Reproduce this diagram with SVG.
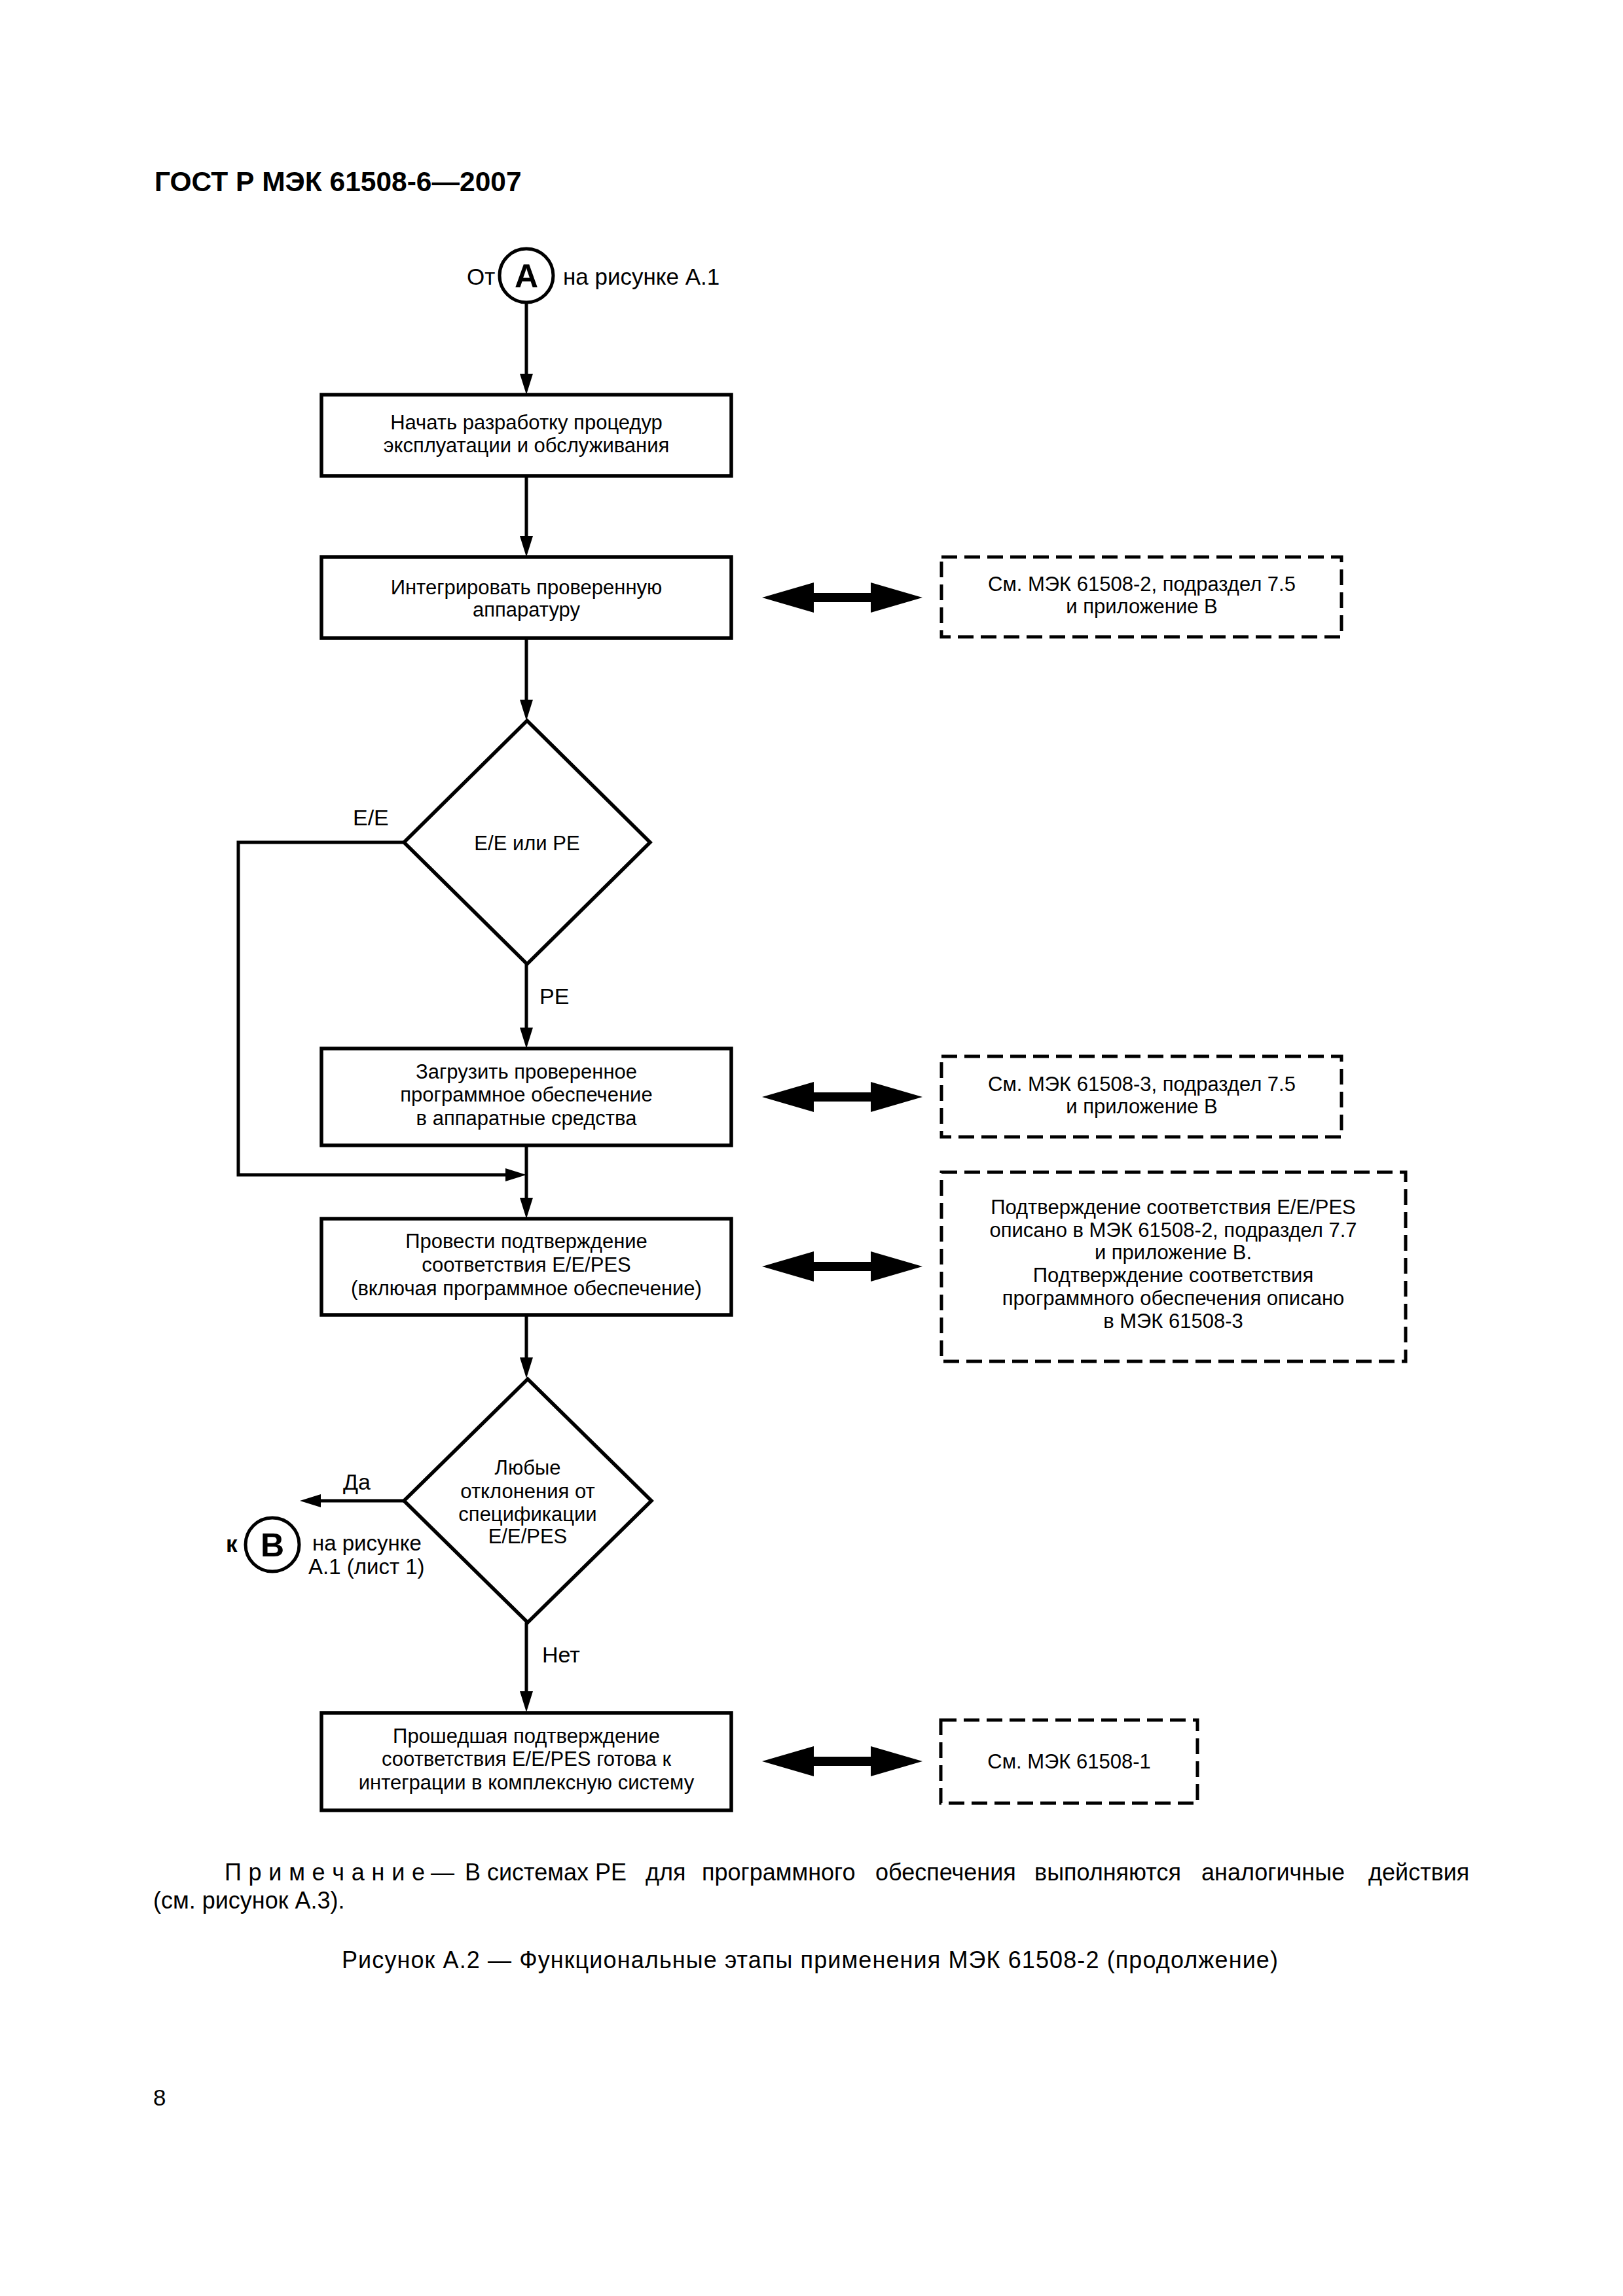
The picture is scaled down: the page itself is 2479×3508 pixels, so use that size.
<svg xmlns="http://www.w3.org/2000/svg" xmlns:xlink="http://www.w3.org/1999/xlink" width="2479" height="3508" viewBox="0 0 2479 3508">
<style>
  text { font-family: "Liberation Sans", Arial, "Noto Sans", sans-serif; fill: #000; }
  .box { fill: #fff; stroke: #000; stroke-width: 5.5; }
  .dbox { fill: #fff; stroke: #000; stroke-width: 5; stroke-dasharray: 24 11; }
  .conn { fill: none; stroke: #000; stroke-width: 5; }
  .t { font-size: 31px; text-anchor: middle; }
  .lbl { font-size: 34px; }
  .ref { font-size: 35px; }
  .cl { font-size: 50px; font-weight: bold; text-anchor: middle; }
  .note { font-size: 36px; }
</style>
<defs>
  <marker id="ah" viewBox="0 0 32 20" refX="16" refY="10" markerWidth="32" markerHeight="20" markerUnits="userSpaceOnUse" orient="auto">
    <path d="M0,0 L32,10 L0,20 Z" fill="#000"/>
  </marker>
  <path id="dbl" d="M0,0 L79,-23 L79,-7 L166,-7 L166,-23 L245,0 L166,23 L166,7 L79,7 L79,23 Z" fill="#000"/>
</defs>
<rect x="0" y="0" width="2479" height="3508" fill="#fff"/>

<text x="236" y="292" style="font-size:42.5px;font-weight:bold">ГОСТ Р МЭК 61508-6—2007</text>

<g id="connectors">
  <path class="conn" d="M804,462 L804,587" marker-end="url(#ah)"/>
  <path class="conn" d="M804,727 L804,835" marker-end="url(#ah)"/>
  <path class="conn" d="M804,975 L804,1085" marker-end="url(#ah)"/>
  <path class="conn" d="M804,1473 L804,1586" marker-end="url(#ah)"/>
  <path class="conn" d="M617,1287 L364,1287 L364,1795 L788,1795" marker-end="url(#ah)"/>
  <path class="conn" d="M804,1750 L804,1846" marker-end="url(#ah)"/>
  <path class="conn" d="M804,2009 L804,2090" marker-end="url(#ah)"/>
  <path class="conn" d="M617,2293 L474,2293" marker-end="url(#ah)"/>
  <path class="conn" d="M804,2479 L804,2600" marker-end="url(#ah)"/>
  <use xlink:href="#dbl" href="#dbl" x="1164" y="913"/>
  <use xlink:href="#dbl" href="#dbl" x="1164" y="1676"/>
  <use xlink:href="#dbl" href="#dbl" x="1164" y="1935"/>
  <use xlink:href="#dbl" href="#dbl" x="1164" y="2691"/>
  <text class="lbl" x="539" y="1261">E/E</text>
  <text class="lbl" x="824" y="1534">PE</text>
  <text class="lbl" x="524" y="2276">Да</text>
  <text class="lbl" x="828" y="2540">Нет</text>
</g>

<g id="connA">
  <text class="ref" x="713" y="435">От</text>
  <circle cx="804" cy="421" r="41" fill="#fff" stroke="#000" stroke-width="5"/>
  <text class="cl" x="804" y="439">А</text>
  <text class="ref" x="860" y="435">на рисунке А.1</text>
</g>

<g id="box1">
  <rect class="box" x="491" y="603" width="626" height="124"/>
  <text class="t" x="804" y="656">Начать разработку процедур</text>
  <text class="t" x="804" y="691">эксплуатации и обслуживания</text>
</g>

<g id="box2">
  <rect class="box" x="491" y="851" width="626" height="124"/>
  <text class="t" x="804" y="908">Интегрировать проверенную</text>
  <text class="t" x="804" y="942">аппаратуру</text>
</g>

<g id="ref1">
  <rect class="dbox" x="1438" y="851" width="611" height="122"/>
  <text class="t" x="1744" y="903">См. МЭК 61508-2, подраздел 7.5</text>
  <text class="t" x="1744" y="937">и приложение В</text>
</g>

<g id="dec1">
  <polygon class="box" points="805,1101 993,1287 805,1473 617,1287"/>
  <text class="t" x="805" y="1299">E/E или PE</text>
</g>

<g id="box3">
  <rect class="box" x="491" y="1602" width="626" height="148"/>
  <text class="t" x="804" y="1648">Загрузить проверенное</text>
  <text class="t" x="804" y="1683">программное обеспечение</text>
  <text class="t" x="804" y="1719">в аппаратные средства</text>
</g>

<g id="ref2">
  <rect class="dbox" x="1438" y="1614" width="611" height="123"/>
  <text class="t" x="1744" y="1667">См. МЭК 61508-3, подраздел 7.5</text>
  <text class="t" x="1744" y="1701">и приложение В</text>
</g>

<g id="box4">
  <rect class="box" x="491" y="1862" width="626" height="147"/>
  <text class="t" x="804" y="1907">Провести подтверждение</text>
  <text class="t" x="804" y="1943">соответствия E/E/PES</text>
  <text class="t" x="804" y="1979">(включая программное обеспечение)</text>
</g>

<g id="ref3">
  <rect class="dbox" x="1438" y="1791" width="709" height="289"/>
  <text class="t" x="1792" y="1855">Подтверждение соответствия E/E/PES</text>
  <text class="t" x="1792" y="1890">описано в МЭК 61508-2, подраздел 7.7</text>
  <text class="t" x="1792" y="1924">и приложение В.</text>
  <text class="t" x="1792" y="1959">Подтверждение соответствия</text>
  <text class="t" x="1792" y="1994">программного обеспечения описано</text>
  <text class="t" x="1792" y="2029">в МЭК 61508-3</text>
</g>

<g id="dec2">
  <polygon class="box" points="806,2107 995,2293 806,2479 617,2293"/>
  <text class="t" x="806" y="2253">Любые</text>
  <text class="t" x="806" y="2289">отклонения от</text>
  <text class="t" x="806" y="2324">спецификации</text>
  <text class="t" x="806" y="2358">E/E/PES</text>
</g>

<g id="connB">
  <text class="ref" x="345" y="2371" style="font-weight:bold">к</text>
  <circle cx="416" cy="2360" r="41" fill="#fff" stroke="#000" stroke-width="5"/>
  <text class="cl" x="416" y="2378">В</text>
  <text x="477" y="2369" style="font-size:33px">на рисунке</text>
  <text x="471" y="2405" style="font-size:33px">А.1 (лист 1)</text>
</g>

<g id="box5">
  <rect class="box" x="491" y="2617" width="626" height="149"/>
  <text class="t" x="804" y="2663">Прошедшая подтверждение</text>
  <text class="t" x="804" y="2698">соответствия E/E/PES готова к</text>
  <text class="t" x="804" y="2734">интеграции в комплексную систему</text>
</g>

<g id="ref4">
  <rect class="dbox" x="1437" y="2628" width="392" height="127"/>
  <text class="t" x="1633" y="2702">См. МЭК 61508-1</text>
</g>

<g id="note">
  <text class="note" x="343" y="2873" textLength="306" lengthAdjust="spacing">П р и м е ч а н и е</text>
  <text class="note" x="658" y="2873">—</text>
  <text class="note" x="710" y="2873">В системах PE</text>
  <text class="note" x="986" y="2873">для</text>
  <text class="note" x="1072" y="2873">программного</text>
  <text class="note" x="1337" y="2873">обеспечения</text>
  <text class="note" x="1580" y="2873">выполняются</text>
  <text class="note" x="1835" y="2873">аналогичные</text>
  <text class="note" x="2090" y="2873">действия</text>
  <text class="note" x="234" y="2916">(см. рисунок А.3).</text>
</g>

<text class="note" x="522" y="3007" textLength="1430" lengthAdjust="spacing">Рисунок А.2 — Функциональные этапы применения МЭК 61508-2 (продолжение)</text>

<text x="234" y="3217" style="font-size:35px">8</text>
</svg>
